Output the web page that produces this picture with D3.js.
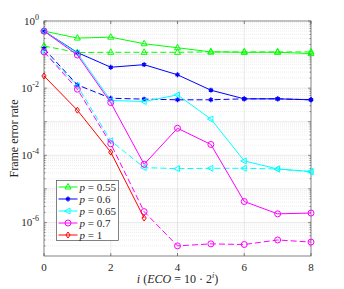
<!DOCTYPE html>
<html>
<head>
<meta charset="utf-8">
<script src="https://cdn.jsdelivr.net/npm/d3@7"></script>
<style>
  body { margin: 0; background: #fff; }
  text { font-family: "Liberation Serif", "DejaVu Serif", serif; fill: #262626; }
</style>
</head>
<body>
<script>
// Width and height
var w = 344;
var h = 289;
var margin = {left: 44, right: 33, top: 21, bottom: 33};

// Data
var iVals = [0, 1, 2, 3, 4, 5, 6, 7, 8];
var xTicks = [0, 2, 4, 6, 8];
var yTicks = [0, -2, -4, -6];   // exponents

var fer055 = [0.5, 0.31, 0.33, 0.21, 0.16, 0.12, 0.117, 0.117, 0.107];
var fer055d = [0.18, 0.115, 0.117, 0.117, 0.117, 0.12, 0.12, 0.12, 0.12];
var fer06 = [0.5, 0.115, 0.042, 0.05, 0.025, 0.0087, 0.0048, 0.0048, 0.0045];
var fer06d = [0.15, 0.0125, 0.005, 0.0047, 0.0045, 0.0045, 0.0048, 0.0048, 0.0045];
var fer065 = [0.5, 0.11, 0.0043, 0.004, 0.0063, 0.0012, 6.8e-5, 3.9e-5, 3.3e-5];
var fer065d = [0.12, 0.0117, 2.7e-4, 4.3e-5, 4.0e-5, 4.1e-5, 4.1e-5, 3.9e-5, 3.2e-5];
var fer07 = [0.5, 0.097, 0.0037, 5.4e-5, 6.4e-4, 2.1e-4, 4.2e-6, 1.8e-6, 1.9e-6];
var fer07d = [0.12, 0.0093, 2.2e-4, 2.1e-6, 2.0e-7, 2.3e-7, 2.2e-7, 3.0e-7, 2.6e-7];
var fer1 = [0.023, 0.0022, 1.24e-4, 1.35e-6];

var series = [
  {label: "0.55", color: "#00ff00", marker: "triUp", values: fer055, dash: null, legend: true},
  {label: "0.55", color: "#00ff00", marker: "triUp", values: fer055d, dash: "6,3", legend: false},
  {label: "0.6", color: "#0000ff", marker: "star", values: fer06, dash: null, legend: true},
  {label: "0.6", color: "#0000ff", marker: "star", values: fer06d, dash: "6,3", legend: false},
  {label: "0.65", color: "#00ffff", marker: "triLeft", values: fer065, dash: null, legend: true},
  {label: "0.65", color: "#00ffff", marker: "triLeft", values: fer065d, dash: "6,3", legend: false},
  {label: "0.7", color: "#ff00ff", marker: "circle", values: fer07, dash: null, legend: true},
  {label: "0.7", color: "#ff00ff", marker: "circle", values: fer07d, dash: "6,3", legend: false},
  {label: "1", color: "#ff0000", marker: "diamond", values: fer1, dash: null, legend: true}
];

var xScale = d3.scaleLinear().domain([0, 8]).range([margin.left, w - margin.right]);
var yScale = d3.scaleLog().domain([1e-7, 1]).range([h - margin.bottom, margin.top]);

var svg = d3.select("body").append("svg").attr("width", w).attr("height", h);

var x0 = xScale(0), x1 = xScale(8), y0 = yScale(1e-7), y1 = yScale(1);

// minor grid (dotted)
var minor = [];
for (var e = -7; e < 0; e++) {
  for (var m = 2; m <= 9; m++) minor.push(m * Math.pow(10, e));
}
svg.append("g").selectAll("line").data(minor).enter().append("line")
   .attr("x1", x0).attr("x2", x1)
   .attr("y1", function(d) { return yScale(d); })
   .attr("y2", function(d) { return yScale(d); })
   .attr("stroke", "#e3e3e3").attr("stroke-width", 0.6)
   .attr("stroke-dasharray", "1,1");

// major grid
var decades = d3.range(-6, 0).map(function(e) { return Math.pow(10, e); });
svg.append("g").selectAll("line").data(decades).enter().append("line")
   .attr("x1", x0).attr("x2", x1)
   .attr("y1", function(d) { return yScale(d); })
   .attr("y2", function(d) { return yScale(d); })
   .attr("stroke", "#e0e0e0").attr("stroke-width", 0.7);
svg.append("g").selectAll("line").data(xTicks.slice(1, -1)).enter().append("line")
   .attr("x1", function(d) { return xScale(d); })
   .attr("x2", function(d) { return xScale(d); })
   .attr("y1", y0).attr("y2", y1)
   .attr("stroke", "#e0e0e0").attr("stroke-width", 0.7);

// axis box
svg.append("rect").attr("x", x0).attr("y", y1)
   .attr("width", x1 - x0).attr("height", y0 - y1)
   .attr("fill", "none").attr("stroke", "#4d4d4d").attr("stroke-width", 0.7);

// ticks (inside, both sides)
xTicks.forEach(function(t) {
  var x = xScale(t);
  svg.append("line").attr("x1", x).attr("x2", x).attr("y1", y0).attr("y2", y0 - 3)
     .attr("stroke", "#4d4d4d").attr("stroke-width", 0.7);
  svg.append("line").attr("x1", x).attr("x2", x).attr("y1", y1).attr("y2", y1 + 3)
     .attr("stroke", "#4d4d4d").attr("stroke-width", 0.7);
  svg.append("text").attr("x", x).attr("y", y0 + 15)
     .attr("text-anchor", "middle").attr("font-size", "11px").text(t);
});
var allY = decades.concat(minor).concat([1]);
allY.forEach(function(v) {
  var isMajor = Math.abs(Math.log10(v) - Math.round(Math.log10(v))) < 1e-9;
  var len = isMajor ? 3 : 1.5;
  var y = yScale(v);
  svg.append("line").attr("x1", x0).attr("x2", x0 + len).attr("y1", y).attr("y2", y)
     .attr("stroke", "#4d4d4d").attr("stroke-width", 0.6);
  svg.append("line").attr("x1", x1).attr("x2", x1 - len).attr("y1", y).attr("y2", y)
     .attr("stroke", "#4d4d4d").attr("stroke-width", 0.6);
});
yTicks.forEach(function(e) {
  var t = svg.append("text").attr("x", x0 - 5).attr("y", yScale(Math.pow(10, e)) + 4)
     .attr("text-anchor", "end").attr("font-size", "11px");
  t.append("tspan").text("10");
  t.append("tspan").attr("font-size", "8px").attr("dy", -5).text(e);
});

// axis labels
svg.append("text").attr("transform", "translate(18," + ((y0 + y1) / 2) + ") rotate(-90)")
   .attr("text-anchor", "middle").attr("font-size", "12px").text("Frame error rate");
var xl = svg.append("text").attr("x", (x0 + x1) / 2).attr("y", h - 6)
   .attr("text-anchor", "middle").attr("font-size", "12px");
xl.append("tspan").attr("font-style", "italic").text("i");
xl.append("tspan").text(" (");
xl.append("tspan").attr("font-style", "italic").text("ECO");
xl.append("tspan").text(" = 10 \u00b7 2");
xl.append("tspan").attr("font-style", "italic").attr("font-size", "8px").attr("dy", -5).text("i");
xl.append("tspan").attr("dy", 5).text(")");

// marker drawing
function drawMarker(g, type, cx, cy, color) {
  var s = 3;
  if (type === "triUp") {
    g.append("path").attr("d", "M" + cx + "," + (cy - s - 0.5) + "L" + (cx + s) + "," + (cy + s - 1) + "L" + (cx - s) + "," + (cy + s - 1) + "Z")
     .attr("fill", "none").attr("stroke", color).attr("stroke-width", 1);
  } else if (type === "triLeft") {
    g.append("path").attr("d", "M" + (cx - s - 0.5) + "," + cy + "L" + (cx + s - 1) + "," + (cy - s) + "L" + (cx + s - 1) + "," + (cy + s) + "Z")
     .attr("fill", "none").attr("stroke", color).attr("stroke-width", 1);
  } else if (type === "circle") {
    g.append("circle").attr("cx", cx).attr("cy", cy).attr("r", s)
     .attr("fill", "none").attr("stroke", color).attr("stroke-width", 1);
  } else if (type === "diamond") {
    g.append("path").attr("d", "M" + cx + "," + (cy - s) + "L" + (cx + s * 0.7) + "," + cy + "L" + cx + "," + (cy + s) + "L" + (cx - s * 0.7) + "," + cy + "Z")
     .attr("fill", "none").attr("stroke", color).attr("stroke-width", 1);
  } else if (type === "star") {
    g.append("path").attr("d", d3.symbol().type(d3.symbolAsterisk).size(16)())
     .attr("transform", "translate(" + cx + "," + cy + ")")
     .attr("fill", "none").attr("stroke", color).attr("stroke-width", 1.4);
  }
}

var line = d3.line()
  .x(function(d, i) { return xScale(iVals[i]); })
  .y(function(d) { return yScale(d); });

var plot = svg.append("g");
series.forEach(function(s) {
  plot.append("path").datum(s.values)
      .attr("d", line)
      .attr("fill", "none")
      .attr("stroke", s.color)
      .attr("stroke-width", 1)
      .attr("stroke-dasharray", s.dash);
  s.values.forEach(function(v, i) {
    drawMarker(plot, s.marker, xScale(iVals[i]), yScale(v), s.color);
  });
});

// legend
var leg = svg.append("g");
var lx = 56.5, ly = 180.5, lw = 62, lh = 60;
leg.append("rect").attr("x", lx).attr("y", ly).attr("width", lw).attr("height", lh)
   .attr("fill", "#fff").attr("stroke", "#4d4d4d").attr("stroke-width", 0.7);
var legItems = series.filter(function(s) { return s.legend; });
legItems.forEach(function(s, k) {
  var yy = ly + 6.5 + k * 12;
  leg.append("line").attr("x1", lx + 2).attr("x2", lx + 21).attr("y1", yy).attr("y2", yy)
     .attr("stroke", s.color).attr("stroke-width", 1);
  drawMarker(leg, s.marker, lx + 11.5, yy, s.color);
  var t = leg.append("text").attr("x", lx + 23).attr("y", yy + 4).attr("font-size", "11px");
  t.append("tspan").attr("font-style", "italic").text("p");
  t.append("tspan").text(" = " + s.label);
});
</script>
</body>
</html>
